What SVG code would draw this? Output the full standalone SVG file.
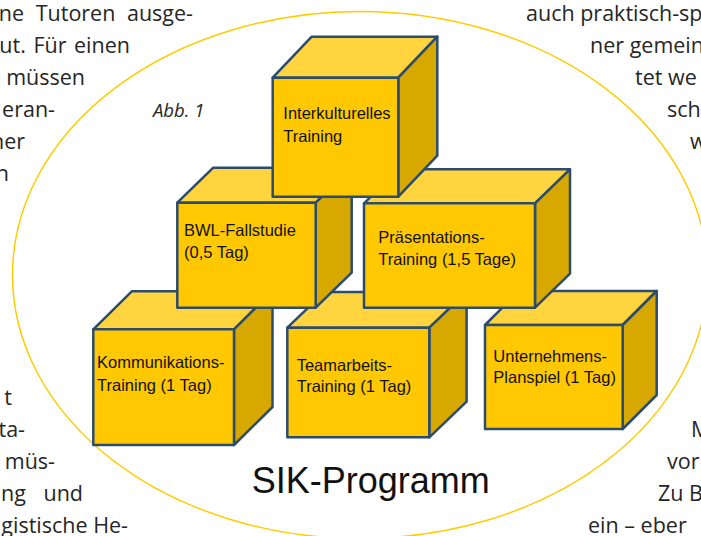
<svg xmlns="http://www.w3.org/2000/svg" width="701" height="536" viewBox="0 0 701 536">
<style>
.body{font-family:"Open Sans","Noto Sans","DejaVu Sans",sans-serif;font-size:21.5px;font-weight:400;fill:#262626}
.lbl{font-family:"Liberation Sans",Arial,sans-serif;font-size:16.5px;fill:#111}
.front{fill:#FFC800;stroke:#2B4C6F;stroke-width:2.5;stroke-linejoin:round}
.top{fill:#FFD43F;stroke:#2B4C6F;stroke-width:2.5;stroke-linejoin:round}
.side{fill:#D6A800;stroke:#2B4C6F;stroke-width:2.5;stroke-linejoin:round}
</style>
<rect width="701" height="536" fill="#fff"/>
<g id="page-text">
<text class="body" x="193" y="20.5" text-anchor="end" word-spacing="6">ne Tutoren ausge-</text>
<text class="body" x="130" y="52.5" text-anchor="end" word-spacing="2">ut. Für einen</text>
<text class="body" x="85" y="84.5" text-anchor="end">müssen</text>
<text class="body" x="55" y="116.5" text-anchor="end">eran-</text>
<text class="body" x="25" y="148.5" text-anchor="end">her</text>
<text class="body" x="9" y="180.5" text-anchor="end">h</text>
<text class="body" x="12" y="404.5" text-anchor="end">t</text>
<text class="body" x="25" y="436.5" text-anchor="end">ta-</text>
<text class="body" x="55" y="468.5" text-anchor="end">müs-</text>
<text class="body" x="83" y="500.5" text-anchor="end" word-spacing="12">ng und</text>
<text class="body" x="128" y="532.5" text-anchor="end">gistische He-</text>
<text class="body" x="526" y="20.5">auch praktisch-sp</text>
<text class="body" x="590" y="52.5">ner gemein</text>
<text class="body" x="635" y="84.5">tet we</text>
<text class="body" x="667" y="116.5">sch</text>
<text class="body" x="690" y="148.5">w</text>
<text class="body" x="691" y="436.5">M</text>
<text class="body" x="667" y="468.5">vor</text>
<text class="body" x="658" y="500.5">Zu B</text>
<text class="body" x="588" y="532.5">ein – eber</text>
</g>
<ellipse id="frame" cx="360" cy="275" rx="347.5" ry="263.5" fill="none" stroke="#FFCC00" stroke-width="1.5"/>
<text x="153" y="116.5" font-family="'Open Sans','Noto Sans',sans-serif" font-style="italic" font-size="18.5" fill="#262626">Abb. 1</text>
<g id="cube-kommunikation">
<polygon class="top" points="93.3,329.3 131.8,291.3 272.5,291.3 234,329.3"/>
<polygon class="side" points="234,329.3 272.5,291.3 272.5,407 234,445"/>
<rect class="front" x="93.3" y="329.3" width="140.7" height="115.7"/>
<text class="lbl" x="97" y="368.3">Kommunikations-</text>
<text class="lbl" x="97" y="390.5">Training (1 Tag)</text>
</g>
<g id="cube-teamarbeit">
<polygon class="top" points="287.3,327.7 324.6,292.1 466.6,292.1 429.3,327.7"/>
<polygon class="side" points="429.3,327.7 466.6,292.1 466.6,401.7 429.3,437.3"/>
<rect class="front" x="287.3" y="327.7" width="142" height="109.6"/>
<text class="lbl" x="296.7" y="370.7">Teamarbeits-</text>
<text class="lbl" x="296.7" y="392">Training (1 Tag)</text>
</g>
<g id="cube-planspiel">
<polygon class="top" points="485,325 519,291 656.7,291 622.7,325"/>
<polygon class="side" points="622.7,325 656.7,291 656.7,395 622.7,429"/>
<rect class="front" x="485" y="325" width="137.7" height="104"/>
<text class="lbl" x="493.3" y="361.7">Unternehmens-</text>
<text class="lbl" x="493.3" y="383">Planspiel (1 Tag)</text>
</g>
<g id="cube-bwl">
<polygon class="top" points="177.3,202.7 213.3,167.7 351.7,167.7 315.7,202.7"/>
<polygon class="side" points="315.7,202.7 351.7,167.7 351.7,272.7 315.7,307.7"/>
<rect class="front" x="177.3" y="202.7" width="138.4" height="105"/>
<text class="lbl" x="184" y="236">BWL-Fallstudie</text>
<text class="lbl" x="184" y="258.3">(0,5 Tag)</text>
</g>
<g id="cube-praesentation">
<polygon class="top" points="364,203.3 399,169.3 570,169.3 535,203.3"/>
<polygon class="side" points="535,203.3 570,169.3 570,273.7 535,307.7"/>
<rect class="front" x="364" y="203.3" width="171" height="104.4"/>
<text class="lbl" x="378.3" y="242.8">Präsentations-</text>
<text class="lbl" x="378.3" y="264.8">Training (1,5 Tage)</text>
</g>
<g id="cube-interkulturell">
<polygon class="top" points="272.7,77.7 311.7,36.7 437.3,36.7 398.3,77.7"/>
<polygon class="side" points="398.3,77.7 437.3,36.7 437.3,155.7 398.3,196.7"/>
<rect class="front" x="272.7" y="77.7" width="125.6" height="119"/>
<text class="lbl" x="283.3" y="119.3">Interkulturelles</text>
<text class="lbl" x="283.3" y="141.7">Training</text>
</g>
<text id="title" x="251.7" y="493.3" font-family="'Liberation Sans',Arial,sans-serif" font-size="36" fill="#111">SIK-Programm</text>
</svg>
